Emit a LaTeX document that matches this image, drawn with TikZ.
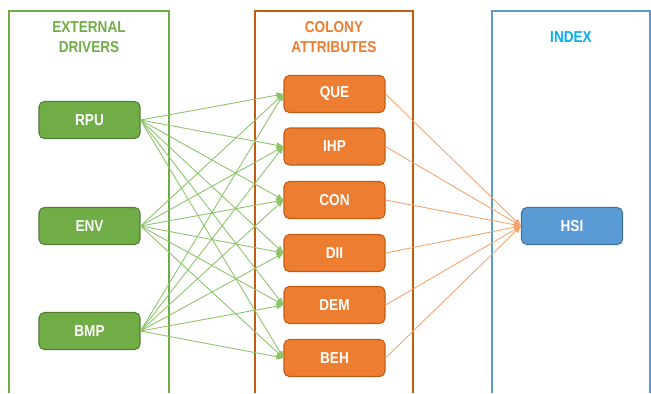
\documentclass[tikz,border=0pt]{standalone}
\usepackage{fontspec}
\setmainfont{Liberation Sans}[FakeStretch=0.86]
\usetikzlibrary{arrows.meta}

\definecolor{drvgreen}{HTML}{70AD47}
\definecolor{drvedge}{HTML}{507E32}
\definecolor{attorange}{HTML}{ED7D31}
\definecolor{attedge}{HTML}{C55A11}
\definecolor{idxblue}{HTML}{5B9BD5}
\definecolor{idxedge}{HTML}{41719C}
\definecolor{idxtitle}{HTML}{00B0F0}
\definecolor{greenlink}{HTML}{8CC46A}
\definecolor{orangelink}{HTML}{F4A46E}

\begin{document}
\begin{tikzpicture}
  [x=0.02cm,y=-0.02cm,
   every node/.style={font=\fontsize{9}{11.3}\selectfont\bfseries},
   box/.style={rounded corners=3pt,minimum width=2.02cm,minimum height=0.74cm,
     inner sep=0pt,text=white,line width=0.6pt},
   driver/.style={box,fill=drvgreen,draw=drvedge},
   attrib/.style={box,fill=attorange,draw=attedge},
   index/.style={box,fill=idxblue,draw=idxedge},
   title/.style={align=center,inner sep=0pt},
   glink/.style={greenlink,line width=0.5pt,-{Triangle[length=4pt,width=3.2pt]}},
   olink/.style={orangelink,line width=0.5pt,-{Triangle[length=4pt,width=3.2pt]}}]
  \useasboundingbox (0,0) rectangle (651,393);

  % panels
  \draw[drvgreen,line width=1.2pt] (9,393) |- (169,11) -- (169,393);
  \draw[attedge,line width=1.2pt] (255,393) |- (413,11) -- (413,393);
  \draw[idxblue,line width=1.2pt] (492,393) |- (650,11) -- (650,393);

  \node[title,text=drvgreen] (tdrv) at (89,37) {EXTERNAL\\DRIVERS};
  \node[title,text=attorange] (tatt) at (334,37) {COLONY\\ATTRIBUTES};
  \node[title,text=idxtitle] (tidx) at (571,37) {INDEX};

  % drivers
  \node[driver] (rpu) at (89.5,120) {RPU};
  \node[driver] (env) at (89.5,226) {ENV};
  \node[driver] (bmp) at (89.5,331) {BMP};

  % attributes
  \node[attrib] (que) at (334.5,94) {QUE};
  \node[attrib] (ihp) at (334.5,146.5) {IHP};
  \node[attrib] (con) at (334.5,200) {CON};
  \node[attrib] (dii) at (334.5,253) {DII};
  \node[attrib] (dem) at (334.5,305) {DEM};
  \node[attrib] (beh) at (334.5,358) {BEH};

  % index
  \node[index] (hsi) at (572,226) {HSI};

  \foreach \from in {rpu,env,bmp}
    \foreach \to in {que,ihp,con,dii,dem,beh}
      \draw[glink] (\from.east) -- (\to.west);

  \foreach \from in {que,ihp,con,dii,dem,beh}
    \draw[olink] (\from.east) -- (hsi.west);

\end{tikzpicture}
\end{document}
